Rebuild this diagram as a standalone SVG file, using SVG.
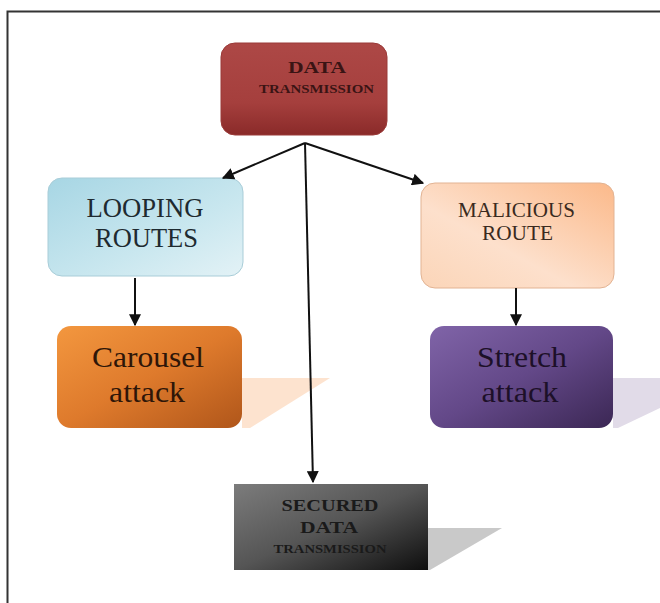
<svg xmlns="http://www.w3.org/2000/svg" width="660" height="603" viewBox="0 0 660 603">
<defs>
<linearGradient id="gRed" x1="0" y1="0" x2="0" y2="1">
<stop offset="0" stop-color="#ad4846"/><stop offset="0.65" stop-color="#a53f3d"/><stop offset="1" stop-color="#8a2a29"/>
</linearGradient>
<linearGradient id="gBlue" x1="0" y1="0" x2="1" y2="1">
<stop offset="0" stop-color="#a7d6e4"/><stop offset="0.6" stop-color="#c9e7ef"/><stop offset="1" stop-color="#e3f2f6"/>
</linearGradient>
<linearGradient id="gPeach" x1="1" y1="0" x2="0" y2="1">
<stop offset="0" stop-color="#fbb98a"/><stop offset="0.6" stop-color="#fde0cc"/><stop offset="1" stop-color="#fbd5b8"/>
</linearGradient>
<linearGradient id="gOrange" x1="0" y1="0" x2="1" y2="1">
<stop offset="0" stop-color="#f3973f"/><stop offset="0.5" stop-color="#de7a2c"/><stop offset="1" stop-color="#b0561a"/>
</linearGradient>
<linearGradient id="gPurple" x1="0" y1="0" x2="1" y2="1">
<stop offset="0" stop-color="#8064a8"/><stop offset="0.5" stop-color="#634888"/><stop offset="1" stop-color="#3b2754"/>
</linearGradient>
<linearGradient id="gGray" x1="0" y1="0" x2="1" y2="1">
<stop offset="0" stop-color="#7c7c7c"/><stop offset="0.5" stop-color="#555"/><stop offset="1" stop-color="#0e0e0e"/>
</linearGradient>
<marker id="arr" viewBox="0 0 10 10" refX="9" refY="5" markerWidth="6" markerHeight="6" orient="auto" markerUnits="strokeWidth">
<path d="M0,0 L10,5 L0,10 z" fill="#111"/>
</marker>
</defs>
<style>
.t{font-family:"Liberation Serif","Times New Roman",serif;text-anchor:middle}
.b{font-weight:bold}
.c{stroke:#111;stroke-width:2;fill:none;marker-end:url(#arr)}
</style>
<rect width="660" height="603" fill="#fff"/>
<path d="M7.5,603 V11.5 H660" fill="none" stroke="#333" stroke-width="2"/>

<g id="data-transmission">
<rect x="221" y="43" width="166" height="92" rx="14" fill="url(#gRed)" stroke="#9a3a38" stroke-width="1"/>
<text class="t b" x="317" y="73" font-size="17" fill="#3a1414" textLength="58" lengthAdjust="spacingAndGlyphs">DATA</text>
<text class="t b" x="316.5" y="93" font-size="12" fill="#3a1414" textLength="115" lengthAdjust="spacingAndGlyphs">TRANSMISSION</text>
</g>

<g id="looping-routes">
<rect x="48" y="178" width="195" height="98" rx="14" fill="url(#gBlue)" stroke="#a9cdd8" stroke-width="1"/>
<text class="t" x="145" y="217" font-size="28" fill="#1e2a30" textLength="117" lengthAdjust="spacingAndGlyphs">LOOPING</text>
<text class="t" x="146.5" y="247" font-size="28" fill="#1e2a30" textLength="103" lengthAdjust="spacingAndGlyphs">ROUTES</text>
</g>

<g id="malicious-route">
<rect x="421" y="183" width="193" height="105" rx="14" fill="url(#gPeach)" stroke="#e2b393" stroke-width="1"/>
<text class="t" x="516.5" y="217" font-size="20" fill="#3a2a20" textLength="117" lengthAdjust="spacingAndGlyphs">MALICIOUS</text>
<text class="t" x="517.5" y="240" font-size="20" fill="#3a2a20" textLength="71" lengthAdjust="spacingAndGlyphs">ROUTE</text>
</g>

<g id="carousel-attack">
<polygon points="242,378 330,378 250,428 242,428" fill="#fde3cf"/>
<rect x="57" y="326" width="185" height="102" rx="14" fill="url(#gOrange)"/>
<text class="t" x="148" y="367" font-size="30" fill="#2e1608" textLength="112" lengthAdjust="spacingAndGlyphs">Carousel</text>
<text class="t" x="147" y="402" font-size="30" fill="#2e1608" textLength="76" lengthAdjust="spacingAndGlyphs">attack</text>
</g>

<g id="stretch-attack">
<polygon points="613,378 660,378 660,408 618,428 613,428" fill="#e1dbe8"/>
<rect x="430" y="326" width="183" height="102" rx="14" fill="url(#gPurple)"/>
<text class="t" x="522" y="367" font-size="30" fill="#1d1028" textLength="90" lengthAdjust="spacingAndGlyphs">Stretch</text>
<text class="t" x="520" y="402" font-size="30" fill="#1d1028" textLength="77" lengthAdjust="spacingAndGlyphs">attack</text>
</g>

<g id="secured-data-transmission">
<polygon points="428,528 502,528 430,570 428,570" fill="#c9c9c9"/>
<rect x="234" y="484" width="194" height="86" fill="url(#gGray)"/>
<text class="t b" x="330" y="511" font-size="17" fill="#1a1a1a" textLength="97" lengthAdjust="spacingAndGlyphs">SECURED</text>
<text class="t b" x="329" y="533" font-size="17" fill="#1a1a1a" textLength="58" lengthAdjust="spacingAndGlyphs">DATA</text>
<text class="t b" x="330" y="553" font-size="12" fill="#1a1a1a" textLength="113" lengthAdjust="spacingAndGlyphs">TRANSMISSION</text>
</g>

<g id="connectors">
<line class="c" x1="305" y1="143" x2="223" y2="178"/>
<line class="c" x1="305" y1="143" x2="423" y2="183"/>
<line class="c" x1="305" y1="143" x2="313" y2="482"/>
<line class="c" x1="135" y1="278" x2="135" y2="325"/>
<line class="c" x1="516" y1="288" x2="516" y2="325"/>
</g>
</svg>
